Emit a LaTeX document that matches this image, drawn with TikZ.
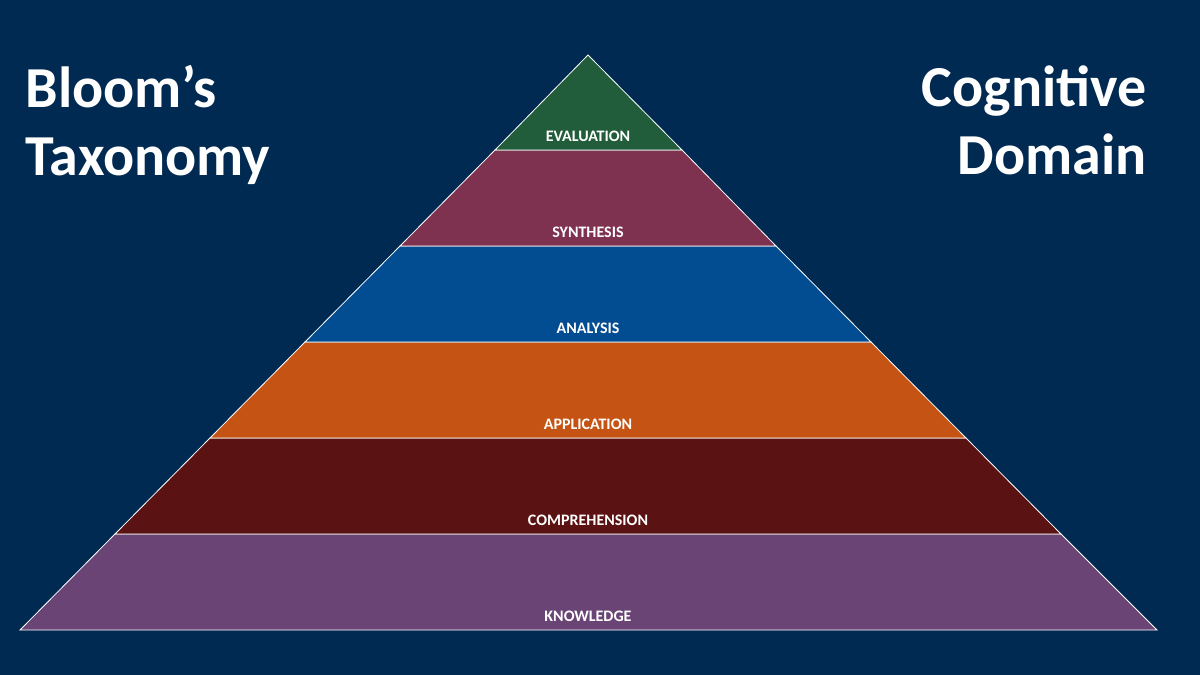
\documentclass[tikz,border=0pt]{standalone}
\usepackage{fontspec}
\setmainfont{Carlito}
\begin{document}
\begin{tikzpicture}[x=1pt,y=-1pt,
  band/.style={draw=white,line width=0.8pt},
  lab/.style={text=white,font=\bfseries\fontsize{16}{18}\selectfont,anchor=base},
  title/.style={text=white,font=\bfseries\fontsize{58}{68}\selectfont,align=left}]
\definecolor{bg}{HTML}{002A52}
\definecolor{cEval}{HTML}{215D3A}
\definecolor{cSyn}{HTML}{7E3250}
\definecolor{cAna}{HTML}{024C92}
\definecolor{cApp}{HTML}{C55314}
\definecolor{cComp}{HTML}{5A1212}
\definecolor{cKnow}{HTML}{6A4475}
\fill[bg] (0,0) rectangle (1200,675);
\useasboundingbox (0,0) rectangle (1200,675);
\filldraw[band,fill=cKnow] (115,534) -- (1061,534) -- (1157,630) -- (20,630) -- cycle;
\filldraw[band,fill=cComp] (210,438) -- (966,438) -- (1061,534) -- (115,534) -- cycle;
\filldraw[band,fill=cApp] (305,342) -- (871,342) -- (966,438) -- (210,438) -- cycle;
\filldraw[band,fill=cAna] (400,246) -- (776,246) -- (871,342) -- (305,342) -- cycle;
\filldraw[band,fill=cSyn] (495,150) -- (682,150) -- (776,246) -- (400,246) -- cycle;
\filldraw[band,fill=cEval] (588,55) -- (682,150) -- (495,150) -- cycle;
\node[lab] (eval) at (588,141) {EVALUATION};
\node[lab] (syn) at (588,237) {SYNTHESIS};
\node[lab] (ana) at (588,333) {ANALYSIS};
\node[lab] (app) at (588,429) {APPLICATION};
\node[lab] (comp) at (588,525) {COMPREHENSION};
\node[lab] (know) at (588,621) {KNOWLEDGE};
\node[title,anchor=north west,align=left] (bt) at (22,62) {Bloom’s\\Taxonomy};
\node[title,anchor=north east,align=right] (cd) at (1150,62) {Cognitive\\Domain};
\end{tikzpicture}
\end{document}
